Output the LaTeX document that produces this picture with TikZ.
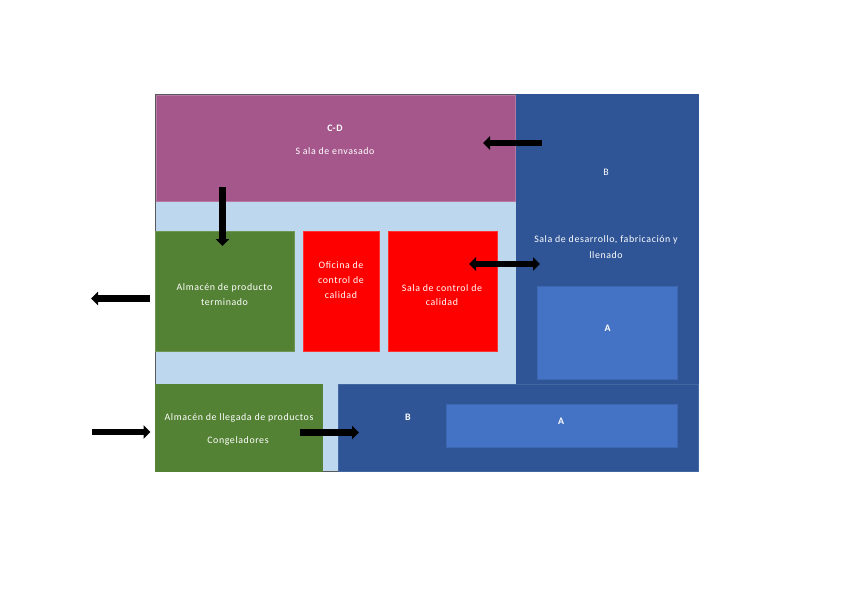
\documentclass[tikz,border=0pt]{standalone}
\usepackage{fontspec}
\setmainfont[LetterSpace=6]{Carlito}
\usetikzlibrary{arrows.meta}
\definecolor{lightb}{HTML}{BDD7EE}
\definecolor{plum}{HTML}{A5578C}
\definecolor{darkb}{HTML}{2F5597}
\definecolor{midb}{HTML}{4472C4}
\definecolor{grn}{HTML}{548235}
\tikzset{
 x=1pt,y=-1pt,
 room/.style={anchor=north west,inner sep=0pt,outer sep=0pt},
 lab/.style={text=white,font=\fontsize{9.9}{11}\selectfont,inner sep=0pt,anchor=center},
 blab/.style={lab,font=\fontsize{9.9}{11}\selectfont\bfseries},
 flow/.style={line width=6.4pt,-{Triangle[length=7pt,width=13.5pt]}},
 flowboth/.style={line width=6.4pt,{Triangle[length=7pt,width=13.5pt]}-{Triangle[length=7pt,width=13.5pt]}},
}
\newcommand{\roomat}[7]{\node[room,fill=#2,draw=#3,line width=.5pt,minimum width=#6pt-#4pt,minimum height=#7pt-#5pt] (#1) at (#4,#5) {};}
\begin{document}
\begin{tikzpicture}
\useasboundingbox (0,0) rectangle (848,599);
\begin{scope}[xshift=-.15pt,yshift=.2pt]
\roomat{outer}{lightb}{black!65}{155}{94}{698}{471}
\roomat{env}{plum}{plum!80!white}{156}{95}{515}{201}
\roomat{bright}{darkb}{darkb}{516}{94}{698}{384}
\roomat{bbottom}{darkb}{darkb!90!white}{338}{384.5}{698}{471}
\roomat{gone}{grn}{grn!85!white}{155.5}{231.5}{294.5}{351.5}
\roomat{redone}{red}{red!80!white}{303}{231}{379}{351.5}
\roomat{redtwo}{red}{red!80!white}{388}{231}{497.5}{351.5}
\roomat{aone}{midb}{midb!90!black}{537.5}{286}{677}{379}
\roomat{atwo}{midb}{midb!90!black}{446}{404}{677}{447.5}
\roomat{gtwo}{grn}{grn}{155.5}{384.5}{322}{471}
\end{scope}
\begin{scope}[yshift=-.7pt]
\node[blab] (cd) at (335,127.5) {C-D};
\node[lab] (env1) at (335,150.5) {S ala de envasado};
\node[lab] (b1) at (606,171.5) {B};
\node[lab] (des1) at (606,239.5) {Sala de desarrollo, fabricación y};
\node[lab] (des2) at (606,254.5) {llenado};
\node[blab] (a1) at (607.5,327.5) {A};
\node[lab] (apt1) at (224.5,287.5) {Almacén de producto};
\node[lab] (apt2) at (224.5,301.5) {terminado};
\node[lab] (of1) at (341,264) {Oficina de};
\node[lab] (of2) at (341,279.5) {control de};
\node[lab] (of3) at (341,294) {calidad};
\node[lab] (sc1) at (442,287.5) {Sala de control de};
\node[lab] (sc2) at (442,301.5) {calidad};
\node[lab] (al1) at (239,417.5) {Almacén de llegada de productos};
\node[lab] (al2) at (238,440.5) {Congeladores};
\node[blab] (b2) at (408,417) {B};
\node[blab] (a2) at (561,421) {A};
\end{scope}
\coordinate (p1a) at (541.5,143); \coordinate (p1b) at (483,143);
\coordinate (p2a) at (222.5,187); \coordinate (p2b) at (222.5,246);
\coordinate (p3a) at (150,298.5); \coordinate (p3b) at (91,298.5);
\coordinate (p4a) at (92,432); \coordinate (p4b) at (150.5,432);
\coordinate (p5a) at (300,432.5); \coordinate (p5b) at (359,432.5);
\coordinate (p6a) at (469,264); \coordinate (p6b) at (540,264);
\draw[flow] (p1a) -- (p1b);
\draw[flow] (p2a) -- (p2b);
\draw[flow] (p3a) -- (p3b);
\draw[flow] (p4a) -- (p4b);
\draw[flow] (p5a) -- (p5b);
\draw[flowboth] (p6a) -- (p6b);
\end{tikzpicture}
\end{document}
